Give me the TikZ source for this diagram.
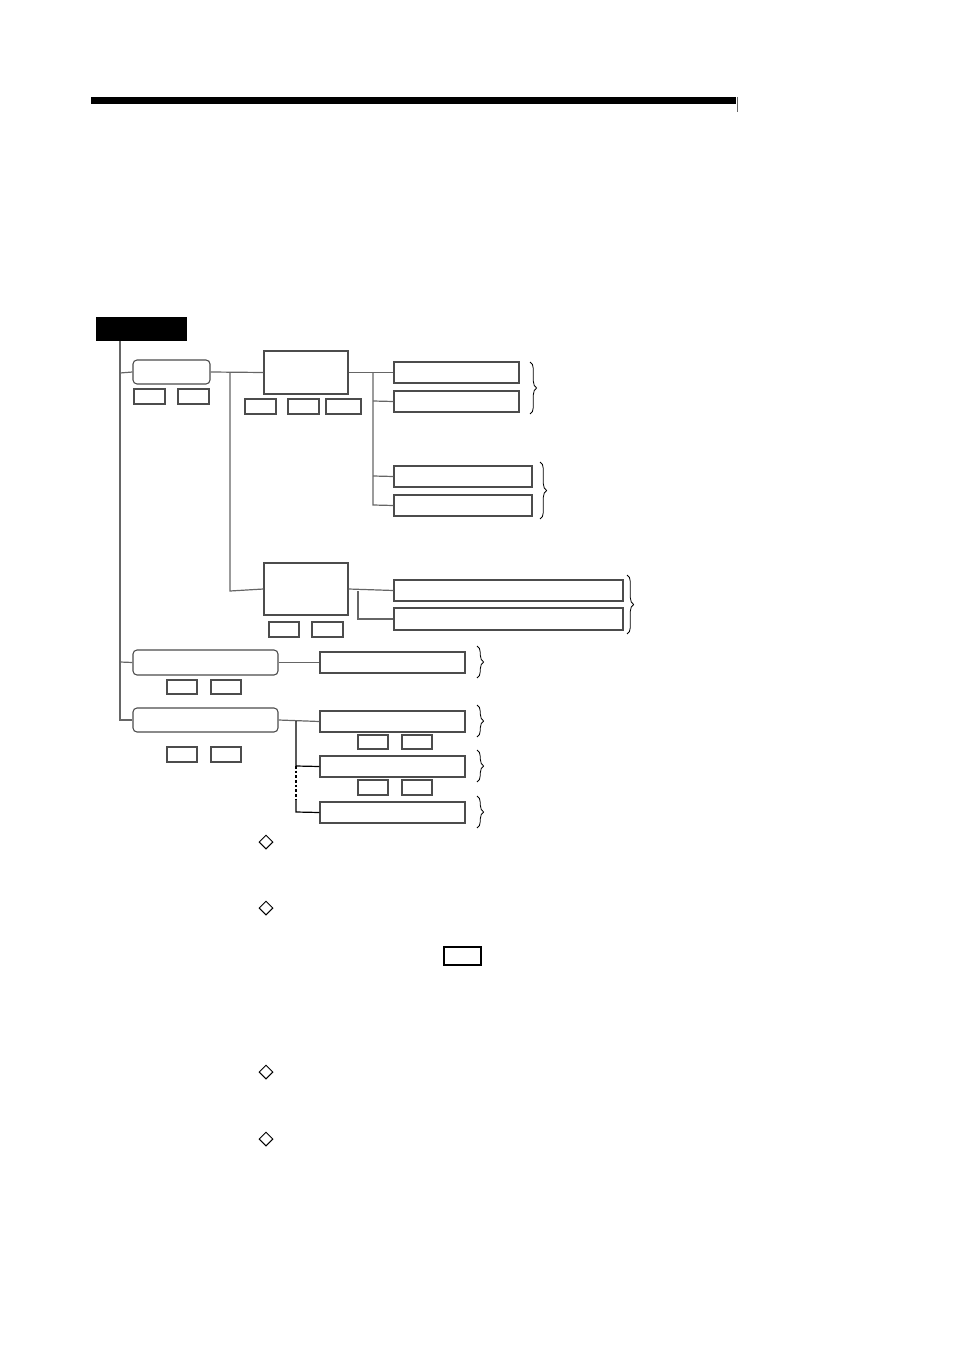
\documentclass[tikz,border=0pt]{standalone}
\usetikzlibrary{fit,decorations.pathreplacing,shapes.geometric}
\definecolor{ln}{gray}{0.4}
\definecolor{bx}{gray}{0.3}
\tikzset{
  box/.style={draw=bx, line width=0.8pt, inner sep=0pt, rectangle},
  rbox/.style={box, rounded corners=3pt},
  conn/.style={draw=ln, line width=0.9pt},
  brc/.style={draw=black, line width=0.6pt, decorate, decoration={brace, amplitude=5pt}},
  dia/.style={draw=black, line width=0.75pt, diamond, inner sep=0pt, minimum width=10.5pt, minimum height=10.5pt}
}
\begin{document}
\begin{tikzpicture}[x=0.75pt,y=-0.75pt]
\useasboundingbox (0,0) rectangle (954,1351);
% header bar
\fill[black] (91,97) rectangle (736,104);
\draw[ln, line width=0.5pt] (737,97) -- (737,112);
% root
\node[fill=black, inner sep=0pt, fit={(96,317)(187,341)}] (root) {};
% branch 1
\node[rbox, fit={(133,360)(210,384)}] (b1) {};
\node[box, fit={(134,389)(165,404)}] (b1k1) {};
\node[box, fit={(178,389)(209,404)}] (b1k2) {};
\node[box, fit={(264,351)(348,394)}] (A) {};
\node[box, fit={(245,399)(276,414)}] (Ak1) {};
\node[box, fit={(288,399)(319,414)}] (Ak2) {};
\node[box, fit={(326,399)(361,414)}] (Ak3) {};
\node[box, fit={(394,362)(519,383)}] (A1) {};
\node[box, fit={(394,391)(519,412)}] (A2) {};
\node[box, fit={(394,466)(532,487)}] (A3) {};
\node[box, fit={(394,495)(532,516)}] (A4) {};
\node[box, fit={(264,563)(348,615)}] (B) {};
\node[box, fit={(269,622)(299,637)}] (Bk1) {};
\node[box, fit={(312,622)(343,637)}] (Bk2) {};
\node[box, fit={(394,580)(623,601)}] (B1) {};
\node[box, fit={(394,608)(623,630)}] (B2) {};
% branch 2
\node[rbox, fit={(133,650)(278,675)}] (b2) {};
\node[box, fit={(167,680)(197,694)}] (b2k1) {};
\node[box, fit={(211,680)(241,694)}] (b2k2) {};
\node[box, fit={(320,652)(465,673)}] (C1) {};
% branch 3
\node[rbox, fit={(133,708)(278,732)}] (b3) {};
\node[box, fit={(167,747)(197,762)}] (b3k1) {};
\node[box, fit={(211,747)(241,762)}] (b3k2) {};
\node[box, fit={(320,711)(465,732)}] (D1) {};
\node[box, fit={(358,735)(388,749)}] (D1k1) {};
\node[box, fit={(402,735)(432,749)}] (D1k2) {};
\node[box, fit={(320,756)(465,777)}] (D2) {};
\node[box, fit={(358,780)(388,795)}] (D2k1) {};
\node[box, fit={(402,780)(432,795)}] (D2k2) {};
\node[box, fit={(320,802)(465,823)}] (D3) {};
% coordinates
\coordinate (t0) at (120,341);
\coordinate (t1) at (120,373);
\coordinate (t2) at (120,662);
\coordinate (t3) at (120,720);
\coordinate (j1) at (230,373);
\coordinate (j2) at (230,591);
\coordinate (s1) at (373,373);
\coordinate (s2) at (373,401);
\coordinate (s3) at (373,476);
\coordinate (s4) at (373,505);
\coordinate (u1) at (358,591);
\coordinate (u2) at (358,619);
\coordinate (v1) at (296,721);
\coordinate (v2) at (296,766);
\coordinate (v3) at (296,800);
\coordinate (v4) at (296,812);
% connectors
\draw[conn] (t0) -- (t3) -- (b3.west);
\draw[conn] (t1) -- (b1.west);
\draw[conn] (t2) -- (b2.west);
\draw[conn] (b1.east) -- (A.west);
\draw[conn] (j1) -- (j2) -- (B.west);
\draw[conn] (A.east) -- (A1.west);
\draw[conn] (s1) -- (s4) -- (A4.west);
\draw[conn] (s2) -- (A2.west);
\draw[conn] (s3) -- (A3.west);
\draw[conn] (B.east) -- (B1.west);
\draw[conn] (u1) -- (u2) -- (B2.west);
\draw[conn] (b2.east) -- (C1.west);
\draw[conn] (b3.east) -- (D1.west);
\draw[conn, draw=black] (v1) -- (v2) -- (D2.west);
\draw[conn, draw=black, dashed, dash pattern=on 2pt off 1.5pt] (v2) -- (v3);
\draw[conn, draw=black] (v3) -- (v4) -- (D3.west);
% braces
\draw[brc] (530,362) -- (530,414);
\draw[brc] (540,462) -- (540,519);
\draw[brc] (627,575) -- (627,634);
\draw[brc] (477,646) -- (477,678);
\draw[brc] (477,705) -- (477,737);
\draw[brc] (477,750) -- (477,782);
\draw[brc] (477,796) -- (477,828);
% diamonds
\node[dia] (d1) at (266,842) {};
\node[dia] (d2) at (266,908) {};
\node[dia] (d3) at (266,1072) {};
\node[dia] (d4) at (266,1139) {};
\node[box, draw=black, fit={(444,947)(481,965)}] (k) {};
\end{tikzpicture}
\end{document}
